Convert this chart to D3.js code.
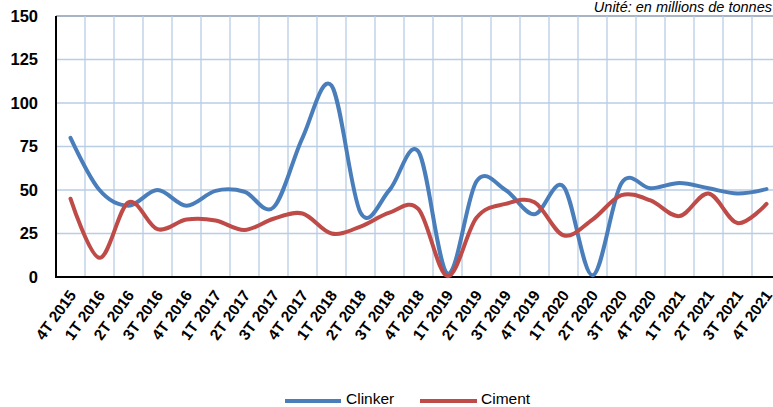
<!DOCTYPE html>
<html><head><meta charset="utf-8">
<script src="https://cdn.jsdelivr.net/npm/d3@7"></script>
<style>body{margin:0;background:#fff}svg{display:block}</style>
</head><body>
<svg id="c" width="773" height="407"></svg>
<script>
const categories = ["4T 2015","1T 2016","2T 2016","3T 2016","4T 2016","1T 2017","2T 2017","3T 2017","4T 2017","1T 2018","2T 2018","3T 2018","4T 2018","1T 2019","2T 2019","3T 2019","4T 2019","1T 2020","2T 2020","3T 2020","4T 2020","1T 2021","2T 2021","3T 2021","4T 2021"];
const clinker = [80,50,41,50,41,49.5,49,40,80,110,37,50,72,2,55,50,36,52,1,54,51,54,51,48,50.5];
const ciment = [45,11,43,27.5,33,32.5,27,33.5,36.5,25,29,37,39,0.5,34,42,43,24,33,47,44,35,48,31,42];
const yTicks = [0,25,50,75,100,125,150];
const seriesNames = ["Clinker","Ciment"];
const colors = ["#4a7ebb","#be4b48"];

const svg = d3.select("#c");
const pLeft = 56, pTop = 16, pBottom = 277, bandW = 29;
const x = d3.scaleBand().domain(categories).range([pLeft, pLeft + bandW*categories.length]).paddingInner(0).paddingOuter(0);
const y = d3.scaleLinear().domain([0,150]).range([pBottom, pTop]);

// gridlines
const g = svg.append("g");
g.selectAll("line.h").data(yTicks.filter(d=>d>0)).enter().append("line")
  .attr("x1", pLeft).attr("x2", 773).attr("y1", d=>y(d)).attr("y2", d=>y(d))
  .attr("stroke", d=> d===150 ? "#8a9bb0" : "#b9cde5").attr("stroke-width", 1.3);
g.selectAll("line.v").data(categories.slice(1)).enter().append("line")
  .attr("x1", d=>x(d)).attr("x2", d=>x(d)).attr("y1", pTop).attr("y2", pBottom)
  .attr("stroke", "#b9cde5").attr("stroke-width", 1.3);

// axes lines
svg.append("line").attr("x1", pLeft).attr("x2", pLeft).attr("y1", pTop).attr("y2", pBottom+1).attr("stroke","#000").attr("stroke-width",2);
svg.append("line").attr("x1", pLeft-1).attr("x2", 773).attr("y1", pBottom).attr("y2", pBottom).attr("stroke","#000").attr("stroke-width",2);

// y labels
svg.selectAll("text.y").data(yTicks).enter().append("text")
  .attr("x", 38).attr("y", d=>y(d)).attr("dy","0.36em").attr("text-anchor","end")
  .style("font","bold 16.5px 'Liberation Sans', Arial, sans-serif").text(d=>d);

// x labels
svg.selectAll("text.x").data(categories).enter().append("text")
  .attr("transform", d=>`translate(${x(d)+x.bandwidth()/2+2},${pBottom+15}) rotate(-54)`)
  .attr("text-anchor","end").attr("dy","0.35em")
  .style("font","bold 15.5px 'Liberation Sans', Arial, sans-serif").text(d=>d);

// lines
const cx = (d,i)=> x(categories[i]) + x.bandwidth()/2;
const line = d3.line().x((d,i)=>cx(d,i)).y(d=>y(d)).curve(d3.curveCardinal.tension(0));
[clinker, ciment].forEach((s,k)=>{
  svg.append("path").datum(s).attr("d", line).attr("fill","none")
    .attr("stroke", colors[k]).attr("stroke-width", 4).attr("stroke-linecap","round").attr("stroke-linejoin","round");
});

// unit note
svg.append("text").attr("x", 772).attr("y", 12).attr("text-anchor","end")
  .style("font","italic 14.5px 'Liberation Sans', Arial, sans-serif").text("Unité: en millions de tonnes");

// legend
const leg = [{x1:285,x2:341,tx:346},{x1:420,x2:477,tx:481}];
seriesNames.forEach((n,k)=>{
  svg.append("line").attr("x1",leg[k].x1).attr("x2",leg[k].x2).attr("y1",401).attr("y2",401)
    .attr("stroke",colors[k]).attr("stroke-width",4);
  svg.append("text").attr("x",leg[k].tx).attr("y",403.5)
    .style("font","15.5px 'Liberation Sans', Arial, sans-serif").text(n);
});
</script>
</body></html>
